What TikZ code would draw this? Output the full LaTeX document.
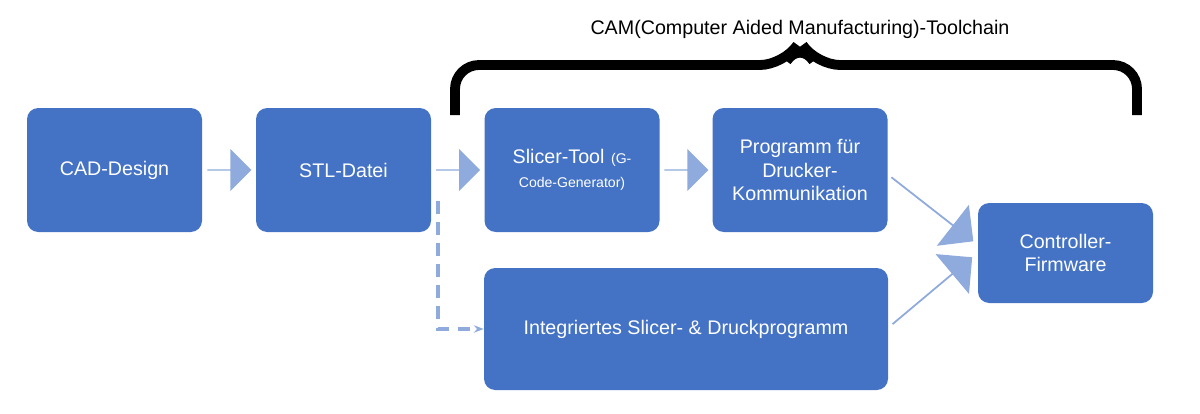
\documentclass[tikz,border=0pt]{standalone}
\usepackage{fontspec}
\setmainfont{Liberation Sans}
\usetikzlibrary{shapes.arrows,calc,arrows.meta}
\definecolor{boxblue}{HTML}{4472C4}
\definecolor{arrblue}{HTML}{8FAADC}
\tikzset{
  box/.style={fill=boxblue,rounded corners=8pt,text=white,align=center,
    minimum width=4.375cm,minimum height=3.1cm,font=\fontsize{14}{17}\selectfont,inner sep=2pt},
  fat/.style={single arrow,fill=arrblue,minimum width=1.05cm,minimum height=1.1cm,
    single arrow head extend=0.2cm,inner sep=0pt},
  bigfat/.style={fat,minimum width=1.3cm,minimum height=2.6cm}
}
\begin{document}
\begin{tikzpicture}
\useasboundingbox (0,0) rectangle (30,10.325);
\node[box] (cad) at (2.8625,6.075) {CAD-Design};
\node[box] (stl) at (8.5875,6.075) {STL-Datei};
\node[box,text width=4cm] (slicer) at (14.3,6.075) {Slicer-Tool {\fontsize{10}{12}\selectfont(G-\\Code-Generator)}};
\node[box] (prog) at (20,6.075) {Programm für\\Drucker-\\Kommunikation};
\node[box,minimum height=2.5cm] (ctrl) at (26.6375,4.0) {Controller-\\Firmware};
\node[box,minimum width=10.1cm,minimum height=3.05cm] (integ) at (17.15,2.1) {Integriertes Slicer- \& Druckprogramm};
\node[fat] (a1) at ($(cad.east)!0.5!(stl.west)$) {};
\node[fat] (a2) at ($(stl.east)!0.5!(slicer.west)$) {};
\node[fat] (a3) at ($(slicer.east)!0.5!(prog.west)$) {};
\node[bigfat,rotate=-38] (a4) at (23.3,5.1) {};
\node[bigfat,rotate=40] (a5) at (23.3,3.05) {};
\coordinate (dstart) at (10.95,5.3);
\draw[arrblue,line width=2.2pt,dash pattern=on 9pt off 6pt,-{Stealth[length=7pt]}] (dstart) |- (integ.west);
\draw[line width=7pt,rounded corners=0.6cm] (11.375,7.45) -- (11.375,8.7) -- (19.6,8.7) -- (20,9.3) -- (20.4,8.7) -- (28.425,8.7) -- (28.425,7.45);
\node[font=\fontsize{14}{17}\selectfont] (title) at (20,9.6) {CAM(Computer Aided Manufacturing)-Toolchain};
\end{tikzpicture}
\end{document}
